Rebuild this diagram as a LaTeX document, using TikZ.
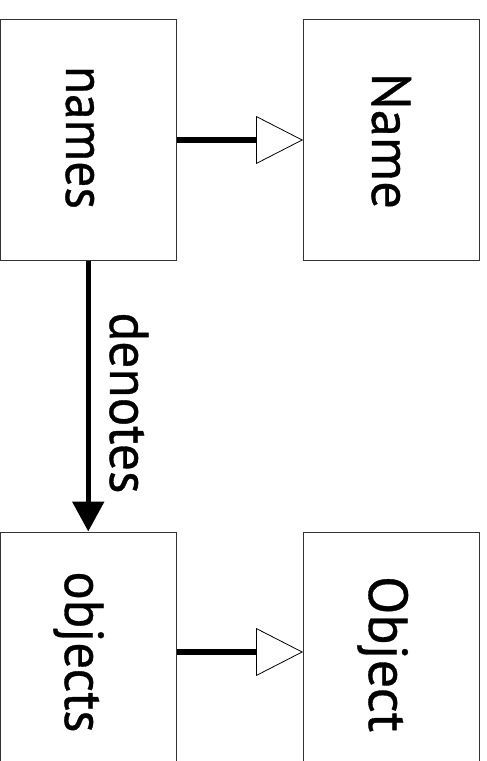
\documentclass[tikz,border=0pt]{standalone}
\usepackage{fontspec}
\usepackage{graphicx}
\newfontfamily\lblfont[FakeBold=0.6]{PT Sans}
\usetikzlibrary{arrows.meta}
\tikzset{
  box/.style={draw=black!80, line width=1bp, fill=white, inner sep=0pt, minimum height=240bp},
  lbl/.style={rotate=-90, anchor=base, inner sep=0pt, font=\lblfont\fontsize{55bp}{60bp}\selectfont},
  isa/.style={line width=5.5bp, -{Triangle[open, length=47bp, width=48bp, line width=0.8bp, fill=white]}},
  rel/.style={line width=5.5bp, -{Triangle[length=30bp, width=31bp]}}
}
\begin{document}
\begin{tikzpicture}[x=1bp, y=-1bp]
\useasboundingbox (0,0) rectangle (487,761);
\clip (0,0) rectangle (487,761);
\node[box, minimum width=175.5bp] (names) at (88.25,140) {};
\node[box, minimum width=176bp] (Name) at (391.5,140) {};
\node[box, minimum width=175.5bp] (objects) at (88.25,652) {};
\node[box, minimum width=176bp] (Object) at (391.5,652) {};
\node[lbl] (tnames) at (66,137.5) {\resizebox{143bp}{\height}{names}};
\node[lbl] (tName) at (372,141) {\resizebox{136bp}{\height}{Name}};
\node[lbl] (tobjects) at (65,652) {\resizebox{161bp}{\height}{objects}};
\node[lbl] (tObject) at (369,654) {\resizebox{156bp}{\height}{Object}};
\node[lbl] (tdenotes) at (110,403) {\resizebox{181bp}{\height}{denotes}};
\draw[isa] (names.east) -- (Name.west);
\draw[isa] (objects.east) -- (Object.west);
\draw[rel] (names.south) -- (objects.north);
\end{tikzpicture}
\end{document}
